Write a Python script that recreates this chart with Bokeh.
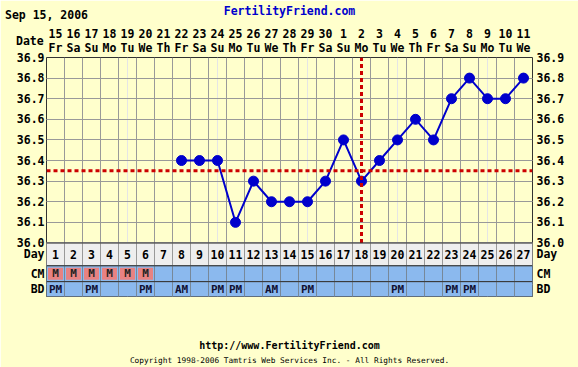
from bokeh.plotting import figure
from bokeh.models import FixedTicker, LinearAxis, Span, Grid
from bokeh.core.properties import value
from bokeh.embed import file_html
from bokeh.resources import INLINE

# ---------------- data ----------------
TITLE_DATE = "Sep 15, 2006"
SITE = "FertilityFriend.com"
URL = "http://www.FertilityFriend.com"
COPYRIGHT = "Copyright 1998-2006 Tamtris Web Services Inc. - All Rights Reserved."
DATE_LABEL = "Date"

days = list(range(1, 28))
dates = ["15", "16", "17", "18", "19", "20", "21", "22", "23", "24", "25", "26", "27", "28",
         "29", "30", "1", "2", "3", "4", "5", "6", "7", "8", "9", "10", "11"]
weekdays = ["Fr", "Sa", "Su", "Mo", "Tu", "We", "Th", "Fr", "Sa", "Su", "Mo", "Tu", "We", "Th",
            "Fr", "Sa", "Su", "Mo", "Tu", "We", "Th", "Fr", "Sa", "Su", "Mo", "Tu", "We"]

temp_days = [8, 9, 10, 11, 12, 13, 14, 15, 16, 17, 18, 19, 20, 21, 22, 23, 24, 25, 26, 27]
temps = [36.4, 36.4, 36.4, 36.1, 36.3, 36.2, 36.2, 36.2, 36.3, 36.5,
         36.3, 36.4, 36.5, 36.6, 36.5, 36.7, 36.8, 36.7, 36.7, 36.8]

coverline = 36.35
ovulation_day = 18

cm_days = [1, 2, 3, 4, 5, 6]
cm_labels = ["M", "M", "M", "M", "M", "M"]

bd_days = [1, 3, 6, 8, 10, 11, 13, 15, 20, 23, 24]
bd_labels = ["PM", "PM", "PM", "AM", "PM", "PM", "AM", "PM", "PM", "PM", "PM"]

temp_ticks = [36.0, 36.1, 36.2, 36.3, 36.4, 36.5, 36.6, 36.7, 36.8, 36.9]
temp_tick_labels = ["36.0", "36.1", "36.2", "36.3", "36.4", "36.5", "36.6", "36.7", "36.8", "36.9"]
row_names = ["Day", "CM", "BD"]

# ---------------- layout ----------------
FONT = "DejaVu Sans Mono"
BG = "#FFFFCC"
BLUE_ROW = "#8BB9EE"
PINK = "#E88282"
DAYROW = "#EEEEEE"
GRID = "#999999"
DARK = "#333333"
RED = "#CC0000"
LINE_BLUE = "#0000CC"

W, H = 578, 367
FRAME_L, FRAME_T, FRAME_W = 46, 56, 486
PX_X = 18.0              # pixels per day
PX_Y = 207.76            # pixels per degree
Y_TOP = temp_ticks[-1]
Y_BASE = temp_ticks[0]
ROW_PX = [23, 16, 15]

b = [Y_BASE]
for h in ROW_PX:
    b.append(b[-1] - h / PX_Y)
row_mid = [(b[i] + b[i + 1]) / 2 for i in range(3)]
row_h = [b[i] - b[i + 1] for i in range(3)]
FRAME_B = int(round(FRAME_T + sum(ROW_PX) + (Y_TOP - Y_BASE) * PX_Y))
X0, X1 = days[0] - 0.5, days[-1] + 0.5
X_MID = (X0 + X1) / 2

p = figure(width=W, height=H,
           x_range=(X0, X1), y_range=(b[3], Y_TOP),
           min_border_left=FRAME_L, min_border_right=W - FRAME_L - FRAME_W,
           min_border_top=FRAME_T, min_border_bottom=H - FRAME_B,
           x_axis_location=None, y_axis_location=None,
           output_backend="svg", toolbar_location=None,
           background_fill_color=BG, border_fill_color=BG,
           outline_line_color=DARK)


def make_axis(ticks, labels, standoff, size="11.5px", color="#000000", style="bold"):
    ax = LinearAxis(ticker=FixedTicker(ticks=ticks),
                    major_label_overrides={t: l for t, l in zip(ticks, labels)})
    ax.axis_line_color = None
    ax.major_tick_line_color = None
    ax.minor_tick_line_color = None
    ax.major_tick_out = 0
    ax.major_tick_in = 0
    ax.minor_tick_out = 0
    ax.major_label_standoff = standoff
    ax.major_label_text_font = FONT
    ax.major_label_text_font_style = style
    ax.major_label_text_font_size = size
    ax.major_label_text_color = color
    ax.axis_label_text_font = FONT
    ax.axis_label_text_font_style = "bold"
    ax.axis_label_text_font_size = "11.5px"
    ax.axis_label_text_color = "#000000"
    return ax


# left / right temperature + row labels
y_ticks = temp_ticks + row_mid
y_labels = temp_tick_labels + row_names
p.add_layout(make_axis(y_ticks, y_labels, 2), "left")
p.add_layout(make_axis(y_ticks, y_labels, 4), "right")

# header: weekdays (with "Date" as axis label), date numbers, title line
wd_axis = make_axis(days, weekdays, 3)
CHAR_W = 0.602 * 11.5
n_pad = int(round((FRAME_L + FRAME_W / 2 - 15) * 2 / CHAR_W)) - len(DATE_LABEL)
wd_axis.axis_label = DATE_LABEL + " " * n_pad
wd_axis.axis_label_standoff = -10
p.add_layout(wd_axis, "above")

dt_axis = make_axis(days, dates, -7)
p.add_layout(dt_axis, "above")

hdr_axis = make_axis([X0 + 1e-6], [TITLE_DATE], 4)
hdr_axis.axis_label = SITE
hdr_axis.axis_label_text_color = "#0000CC"
hdr_axis.axis_label_standoff = -13
p.add_layout(hdr_axis, "above")

# footer
p.add_layout(make_axis([X_MID], [URL], 43, size="10px"), "below")
p.add_layout(make_axis([X_MID], [COPYRIGHT], 2, size="7.8px", style="normal"), "below")

# grids
p.add_layout(Grid(dimension=0, ticker=FixedTicker(ticks=[d + 0.5 for d in days[:-1]]),
                  grid_line_color=GRID))
p.add_layout(Grid(dimension=1, ticker=FixedTicker(ticks=temp_ticks[1:-1]),
                  grid_line_color=GRID))

# rows
p.rect(x=days, y=row_mid[0], width=1, height=row_h[0], fill_color=DAYROW, line_color=GRID)
p.text(x=days, y=row_mid[0], text=[str(d) for d in days], text_font=value(FONT),
       text_font_style="bold", text_font_size="11.5px", text_align="center",
       text_baseline="middle", text_color="#000000")
p.rect(x=days, y=row_mid[1], width=1, height=row_h[1], fill_color=BLUE_ROW, line_color="#778899")
p.rect(x=cm_days, y=row_mid[1], width=15 / PX_X, height=12 / PX_Y, fill_color=PINK, line_color=None)
p.text(x=cm_days, y=row_mid[1], text=cm_labels, text_font=value(FONT),
       text_font_style="bold", text_font_size="11px", text_align="center",
       text_baseline="middle", text_color="#222222")
p.rect(x=days, y=row_mid[2], width=1, height=row_h[2], fill_color=BLUE_ROW, line_color="#778899")
p.text(x=bd_days, y=row_mid[2], text=bd_labels, text_font=value(FONT),
       text_font_style="bold", text_font_size="11px", text_align="center",
       text_baseline="middle", text_color="#111133")
for loc in b[:3]:
    p.add_layout(Span(location=loc, dimension="width", line_color=DARK, line_width=1))

# temperatures
p.line(temp_days, temps, line_color=LINE_BLUE, line_width=2)
p.scatter(temp_days, temps, size=10, fill_color=LINE_BLUE, line_color=LINE_BLUE)

# coverline & ovulation
p.add_layout(Span(location=coverline, dimension="width", line_color=RED, line_width=3,
                  line_dash="4 3"))
p.segment(x0=[ovulation_day], y0=[Y_BASE], x1=[ovulation_day], y1=[Y_TOP],
          line_color=RED, line_width=3, line_dash="4 3")

open("out.html", "w").write(file_html(p, INLINE))
